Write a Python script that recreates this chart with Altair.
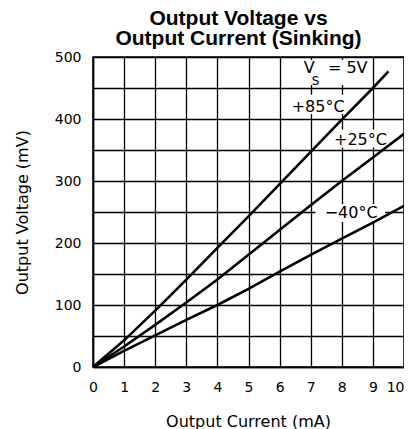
import altair as alt
import pandas as pd

# ---- data ----
x_85 = [0, 1, 2, 3, 4, 5, 6, 7, 8, 9, 9.5]
y_85 = [0, 43, 91, 141, 192, 243, 295, 347, 399, 450, 477]
x_25 = [0, 1, 2, 3, 4, 5, 6, 7, 8, 9, 10]
y_25 = [0, 33, 68, 104, 141, 181, 221, 261, 300, 338, 376]
x_m40 = [0, 1, 2, 3, 4, 5, 6, 7, 8, 9, 10]
y_m40 = [0, 26, 51, 76, 100, 126, 154, 181, 207, 233, 260]

series_names = ["+85°C", "+25°C", "−40°C"]

# annotation labels (data coordinates, centre / baseline)
lab_text = ["+85°C", "+25°C", "−40°C", "V", "= 5V"]
lab_x = [7.24, 8.6, 8.3, 6.95, 8.19]
lab_y = [412, 358, 241, 475, 475]
sub_text = ["S"]
sub_x = [7.16]
sub_y = [455]

# white boxes behind labels
box_x = [6.8, 6.32, 7.66, 7.15]
box_x2 = [8.85, 8.08, 9.58, 9.39]
box_y = [455, 408, 354, 234]
box_y2 = [495, 439, 383, 263]

x_ticks = list(range(0, 11))
y_ticks = list(range(0, 501, 50))

rows = []
for name, xs, ys in zip(series_names, [x_85, x_25, x_m40], [y_85, y_25, y_m40]):
    for a, b in zip(xs, ys):
        rows.append({"series": name, "x": a, "y": b})
df = pd.DataFrame(rows)
lab_df = pd.DataFrame({"t": lab_text, "x": lab_x, "y": lab_y})
sub_df = pd.DataFrame({"t": sub_text, "x": sub_x, "y": sub_y})
box_df = pd.DataFrame({"x": box_x, "x2": box_x2, "y": box_y, "y2": box_y2})

FONT = "DejaVu Sans"

xscale = alt.Scale(domain=[0, 10], nice=False, zero=True)
yscale = alt.Scale(domain=[0, 500], nice=False)

xaxis = alt.Axis(
    values=x_ticks, grid=True, gridColor="black", gridOpacity=1, gridWidth=1.3,
    ticks=False, domainColor="black", domainWidth=1.5, labelFont=FONT,
    labelFontSize=14, labelColor="black", labelPadding=13, labelFlush=False,
    labelOverlap=False,
    labelAlign={"condition": {"test": "datum.value == 10", "value": "right"}, "value": "center"},
    title="Output Current (mA)", titleFont=FONT, titleFontSize=16,
    titleFontWeight="normal", titleColor="black", titleX=155, titleY=54,
    titleBaseline="middle", titleAlign="center",
)
yaxis = alt.Axis(
    values=y_ticks, grid=True, gridColor="black", gridOpacity=1, gridWidth=1.3,
    ticks=False, domainColor="black", domainWidth=1.5, labelFont=FONT,
    labelFontSize=14, labelColor="black", labelPadding=12, labelFlush=False,
    labelOverlap=False,
    labelExpr="datum.value % 100 == 0 ? datum.label : ''",
    title="Output Voltage (mV)", titleFont=FONT, titleFontSize=16,
    titleFontWeight="normal", titleColor="black", titleX=-71, titleY=155,
    titleBaseline="middle", titleAlign="center", titleAngle=270,
)

def ex():
    return alt.X("x:Q", scale=xscale, axis=xaxis)

def ey():
    return alt.Y("y:Q", scale=yscale, axis=yaxis)

boxes = alt.Chart(box_df).mark_rect(color="white").encode(
    x=ex(), x2="x2:Q", y=ey(), y2="y2:Q",
)

lines = alt.Chart(df).mark_line(color="black", strokeWidth=2.6).encode(
    x=ex(), y=ey(), detail="series:N"
)

labels = alt.Chart(lab_df).mark_text(
    font=FONT, fontSize=16, color="black", align="center", baseline="alphabetic"
).encode(x=ex(), y=ey(), text="t:N")

sub = alt.Chart(sub_df).mark_text(
    font=FONT, fontSize=12, color="black", align="center", baseline="alphabetic"
).encode(x=ex(), y=ey(), text="t:N")

chart = alt.layer(boxes, lines, labels, sub).properties(
    width=311,
    height=310,
    autosize=alt.AutoSizeParams(type="none"),
    padding={"left": 85, "top": 49, "right": 0, "bottom": 62},
    title=alt.TitleParams(
        text=["Output Voltage vs", "Output Current (Sinking)"],
        font="Liberation Sans, Arial", fontSize=21, fontWeight="bold",
        color="black", anchor="middle", dx=-10, lineHeight=20, offset=1,
    ),
).configure_view(stroke="black", strokeWidth=1.5)

chart.save("out.html", embed_options={"renderer": "svg", "actions": False})
